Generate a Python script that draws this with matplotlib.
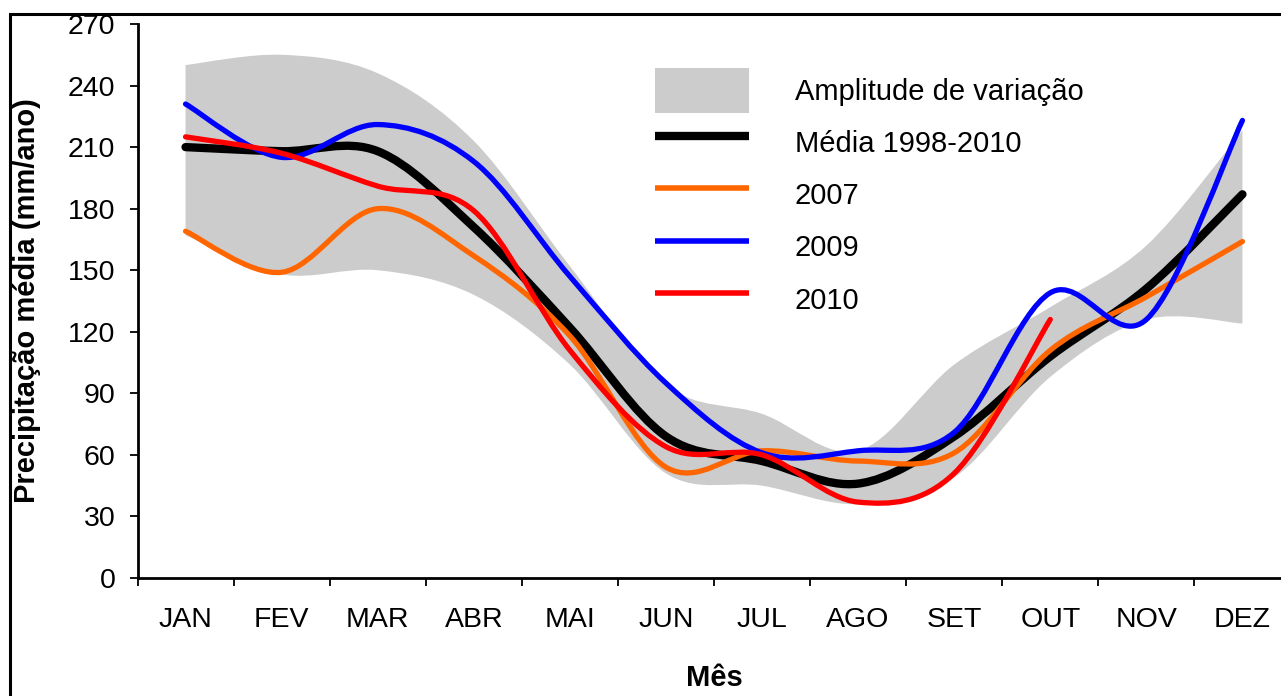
import numpy as np
import matplotlib
matplotlib.use('Agg')
import matplotlib.pyplot as plt
from matplotlib.path import Path
from matplotlib.patches import PathPatch, Patch, Rectangle
from matplotlib.lines import Line2D

plt.rcParams['font.family'] = ['Liberation Sans', 'DejaVu Sans']

# monthly rainfall (mm) -- mean, individual years and the min/max envelope
meses = ['JAN', 'FEV', 'MAR', 'ABR', 'MAI', 'JUN',
         'JUL', 'AGO', 'SET', 'OUT', 'NOV', 'DEZ']
media = [210, 208, 208, 171, 122, 69, 57, 46, 69, 108, 141, 187]
ano_2007 = [169, 149, 180, 157, 118, 54, 62, 57, 61, 111, 137, 164]
ano_2009 = [231, 205, 221, 203, 147, 95, 61, 62, 71, 139, 126, 223]
ano_2010 = [215, 207, 191, 179, 111, 64, 60, 37, 51, 126]
amp_max = [250, 255, 246, 213, 152, 94, 80, 62, 104, 132, 162, 218]
amp_min = [167, 148, 150, 138, 104, 51, 45, 36, 49, 98, 126, 124]

yticks = list(range(0, 271, 30))


def smooth_segments(xs, ys):
    """Catmull-Rom style cubic Bezier pieces through the given points."""
    pts = np.column_stack([xs, ys]).astype(float)
    pad = np.vstack([pts[0], pts, pts[-1]])
    verts = [pts[0]]
    codes = [Path.MOVETO]
    for i in range(len(pts) - 1):
        p0, p1, p2, p3 = pad[i], pad[i + 1], pad[i + 2], pad[i + 3]
        verts += [p1 + (p2 - p0) / 6, p2 - (p3 - p1) / 6, p2]
        codes += [Path.CURVE4] * 3
    return verts, codes


def smooth_line(ax, ys, color, lw, z):
    xs = np.arange(len(ys))
    verts, codes = smooth_segments(xs, ys)
    ax.add_patch(PathPatch(Path(verts, codes), facecolor='none', edgecolor=color,
                           lw=lw, capstyle='round', joinstyle='round', zorder=z))


def smooth_band(ax, upper, lower, color, z):
    xs = np.arange(len(upper))
    v_up, c_up = smooth_segments(xs, upper)
    v_lo, c_lo = smooth_segments(xs[::-1], lower[::-1])
    verts = v_up + v_lo + [v_up[0]]
    codes = c_up + [Path.LINETO] + c_lo[1:] + [Path.CLOSEPOLY]
    ax.add_patch(PathPatch(Path(verts, codes), facecolor=color, edgecolor='none', zorder=z))


W, H = 1281, 696
fig = plt.figure(figsize=(W / 100, H / 100), dpi=100)
ax = fig.add_axes([137.5 / W, 118 / H, 1153 / W, 554 / H])

smooth_band(ax, amp_max, amp_min, '#cccccc', 1)
smooth_line(ax, media, 'black', 6, 2)
smooth_line(ax, ano_2007, '#ff6600', 3.8, 3)
smooth_line(ax, ano_2009, '#0000ff', 3.8, 4)
smooth_line(ax, ano_2010, '#ff0000', 3.8, 5)

ax.set_xlim(-0.5, 11.5)
ax.set_ylim(0, 270)
ax.set_yticks(yticks)
ax.set_xticks(range(12))
ax.set_xticklabels(meses)
ax.set_xticks(np.arange(-0.5, 12, 1), minor=True)

for s in ['top', 'right']:
    ax.spines[s].set_visible(False)
for s in ['left', 'bottom']:
    ax.spines[s].set_linewidth(2)
ax.spines['bottom'].set_clip_on(False)

ax.tick_params(axis='y', length=6, width=1.3, pad=10, labelsize=20.5)
ax.tick_params(axis='x', which='major', length=0, pad=21, labelsize=20.5)
ax.tick_params(axis='x', which='minor', length=6, width=1.3)

ax.set_ylabel('Precipitação média (mm/ano)', fontsize=21, fontweight='bold', labelpad=19)
ax.set_xlabel('Mês', fontsize=21, fontweight='bold', labelpad=22)

handles = [
    Patch(facecolor='#cccccc', edgecolor='none'),
    Line2D([], [], color='black', lw=6, solid_capstyle='butt'),
    Line2D([], [], color='#ff6600', lw=4, solid_capstyle='butt'),
    Line2D([], [], color='#0000ff', lw=4, solid_capstyle='butt'),
    Line2D([], [], color='#ff0000', lw=4, solid_capstyle='butt'),
]
labels = ['Amplitude de variação', 'Média 1998-2010', '2007', '2009', '2010']
ax.legend(handles, labels, loc='upper left', frameon=False, fontsize=21,
          bbox_to_anchor=(655 / W, 1 - 68 / H), bbox_transform=fig.transFigure,
          borderpad=0, borderaxespad=0, handlelength=3.22, handleheight=1.98,
          handletextpad=1.58, labelspacing=0.26)

# outer frame around the figure
fig.add_artist(Rectangle((9.5 / W, -0.2), 1.5, 1.2 - 13.5 / H, transform=fig.transFigure,
                         fill=False, lw=2.2, edgecolor='black'))

fig.savefig('out.png', dpi=100)
